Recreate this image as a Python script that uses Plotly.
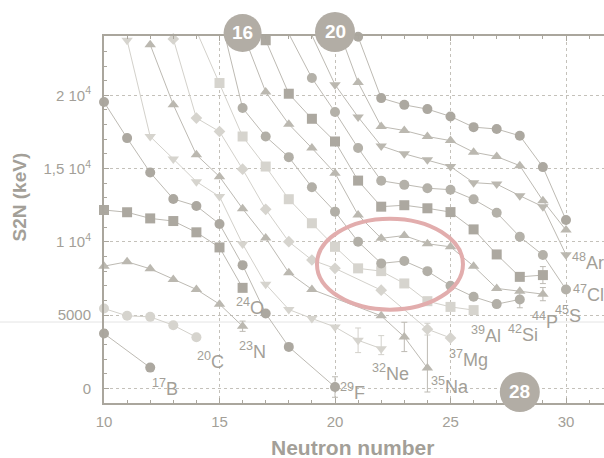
import plotly.graph_objects as go

# ---------------- data ----------------
B_N = [10, 12]
B_S = [3740, 1415]
C_N = [10, 11, 12, 13, 14]
C_S = [5450, 4950, 4880, 4310, 3490]
N_N = [10, 11, 12, 13, 14, 15, 16]
N_S = [8340, 8640, 8160, 7430, 6750, 5745, 4240]
O_N = [10, 11, 12, 13, 14, 15, 16]
O_S = [12175, 12020, 11600, 11420, 10650, 9620, 6860]
F_N = [10, 11, 12, 13, 14, 15, 16, 17, 18, 20]
F_S = [19540, 17080, 14730, 12930, 12450, 11220, 8410, 5110, 2830, 90]
Ne_N = [11, 12, 13, 14, 15, 16, 17, 18, 19, 20, 21, 22]
Ne_S = [23760, 17190, 15660, 14110, 13090, 9850, 7110, 5380, 4770, 4190, 3280, 2710]
Na_N = [12, 13, 14, 15, 16, 17, 18, 19, 22, 23, 24]
Na_S = [23460, 19360, 15940, 14450, 12260, 10260, 7890, 6750, 4950, 3510, 1390]
Mg_N = [13, 14, 15, 16, 17, 18, 19, 20, 22, 24, 25]
Mg_S = [23850, 18450, 17530, 14960, 12220, 10010, 8760, 8190, 6700, 4040, 3440]
Al_N = [14, 15, 16, 17, 18, 19, 20, 21, 22, 23, 24, 25, 26]
Al_S = [24400, 20840, 17190, 15140, 12910, 11270, 9660, 8190, 8000, 7160, 5950, 5560, 5340]
Si_N = [15, 16, 17, 18, 19, 20, 21, 22, 23, 24, 25, 26, 27, 28]
Si_S = [25600, 19130, 17190, 15780, 13730, 12060, 10010, 8530, 8690, 8000, 7000, 6250, 5750, 6070]
P_N = [16, 17, 18, 19, 20, 21, 22, 23, 24, 25, 26, 27, 28, 29]
P_S = [24300, 20230, 18030, 16400, 14690, 11830, 10240, 10430, 9870, 9660, 8340, 6820, 6630, 6430]
S_N = [16, 17, 18, 19, 20, 21, 22, 23, 24, 25, 26, 27, 28, 29]
S_S = [28100, 23760, 20110, 18400, 16850, 14180, 12400, 12500, 12290, 12030, 10850, 9140, 7610, 7730]
Cl_N = [18, 19, 20, 21, 22, 23, 24, 25, 26, 27, 28, 29, 30]
Cl_S = [24200, 21180, 18860, 16400, 14170, 13890, 13660, 13560, 12900, 11990, 10350, 9100, 6750]
Ar_N = [19, 20, 21, 22, 23, 24, 25, 26, 27, 28, 29, 30]
Ar_S = [24100, 20730, 18520, 16550, 16010, 15600, 15140, 14040, 13940, 13150, 12400, 9120]
K_N = [20, 21, 22, 23, 24, 25, 26, 27, 28, 29, 30]
K_S = [25150, 20880, 17870, 17600, 17190, 16910, 16120, 15820, 15200, 12810, 10800]
Ca_N = [21, 22, 23, 24, 25, 26, 27, 28, 29, 30]
Ca_S = [24000, 19810, 19350, 19060, 18560, 17830, 17700, 17240, 15100, 11490]

# error bars: element -> {N: (plus, minus)}
ERRORS = {
    "N": {16: (350, 350)},
    "F": {20: (700, 700)},
    "Ne": {21: (840, 840), 22: (890, 410)},
    "Na": {23: (1000, 1000), 24: (2800, 1640)},
    "Mg": {24: (400, 400)},
    "Si": {28: (570, 570)},
    "P": {29: (450, 450)},
    "S": {29: (580, 580)},
}

# drip-line labels: element -> mass number
MASS = {"B": 17, "C": 20, "N": 23, "O": 24, "F": 29, "Ne": 32, "Na": 35,
        "Mg": 37, "Al": 39, "Si": 42, "P": 44, "S": 45, "Cl": 47, "Ar": 48}

Y_TICKS = [0, 5000, 10000, 15000, 20000]
Y_TICKTEXT = ["0", "5000", "1 10<sup>4</sup>", "1,5 10<sup>4</sup>", "2 10<sup>4</sup>"]
X_TICKS = [10, 15, 20, 25, 30]
MAGIC = [16, 20, 28]

# ---------------- styling ----------------
DARK = "#aca8a0"
MID = "#bbb8b0"
LIGHT = "#d6d4ce"
LINE = "#bdbab3"
LINE_L = "#d3d1cb"
TXT = "#a39f98"

series = [
    ("B", B_N, B_S, "circle", DARK, LINE),
    ("C", C_N, C_S, "circle", LIGHT, LINE_L),
    ("N", N_N, N_S, "triangle-up", MID, LINE),
    ("O", O_N, O_S, "square", DARK, LINE),
    ("F", F_N, F_S, "circle", DARK, LINE),
    ("Ne", Ne_N, Ne_S, "triangle-down", LIGHT, LINE_L),
    ("Na", Na_N, Na_S, "triangle-up", MID, LINE),
    ("Mg", Mg_N, Mg_S, "diamond", LIGHT, LINE_L),
    ("Al", Al_N, Al_S, "square", LIGHT, LINE_L),
    ("Si", Si_N, Si_S, "circle", "#b2afa7", LINE),
    ("P", P_N, P_S, "triangle-up", MID, LINE),
    ("S", S_N, S_S, "square", DARK, LINE),
    ("Cl", Cl_N, Cl_S, "circle", "#b4b1a9", LINE),
    ("Ar", Ar_N, Ar_S, "triangle-down", MID, LINE),
    ("K", K_N, K_S, "triangle-up", MID, LINE),
    ("Ca", Ca_N, Ca_S, "circle", DARK, LINE),
]

SIZES = {"circle": 10, "square": 10, "triangle-up": 10, "triangle-down": 10, "diamond": 9}

# label offsets (pixels) relative to the last point of each chain
LABEL_SHIFT = {"B": (15, -20), "C": (14, -23), "N": (10, -24), "O": (7, -19),
               "F": (17, -4), "Ne": (9, -24), "Na": (23, -18), "Mg": (18, -21),
               "Al": (12, -24), "Si": (3, -34), "P": (2, -26), "S": (25, -39),
               "Cl": (22, -4), "Ar": (22, -7)}

fig = go.Figure()
annotations = []
for el, xs, ys, sym, col, lcol in series:
    err = ERRORS.get(el, {})
    ep = [err.get(n, (0, 0))[0] for n in xs]
    em = [err.get(n, (0, 0))[1] for n in xs]
    fig.add_trace(go.Scatter(
        x=xs, y=ys, mode="lines+markers", cliponaxis=False,
        line=dict(color=lcol, width=1),
        marker=dict(symbol=sym, size=SIZES[sym], color=col, line=dict(width=0)),
        error_y=dict(type="data", array=ep, arrayminus=em, visible=bool(err),
                     color=lcol, thickness=1, width=3),
        showlegend=False, name=el,
    ))
    if el in MASS:
        dx, dy = LABEL_SHIFT[el]
        annotations.append(dict(
            x=xs[-1], y=ys[-1], xref="x", yref="y", showarrow=False,
            text=f"<sup>{MASS[el]}</sup>{el}", xshift=dx, yshift=dy,
            font=dict(size=18, color=TXT, family="Liberation Sans"),
            xanchor="center", yanchor="middle"))

# axis titles
annotations.append(dict(x=-0.17, y=0.56, xref="paper", yref="paper", showarrow=False,
                        text="<b>S2N (keV)</b>", textangle=-90,
                        xanchor="center", yanchor="middle",
                        font=dict(size=19, color=TXT, family="Liberation Sans")))
annotations.append(dict(x=0.496, y=-0.12, xref="paper", yref="paper", showarrow=False,
                        text="<b>Neutron number</b>", xanchor="center", yanchor="middle",
                        font=dict(size=21, color=TXT, family="Liberation Sans")))

shapes = []
# faint scan line
shapes.append(dict(type="line", xref="paper", yref="paper", x0=-0.208, x1=1.0,
                   y0=0.2207, y1=0.2207, line=dict(color="#e4e4e4", width=1), layer="below"))
# highlight ellipse
shapes.append(dict(type="circle", xref="x", yref="y", x0=19.22, x1=25.54, y0=5373, y1=11579,
                   line=dict(color="#e2adad", width=4)))
# magic number badges
magic_pos = {16: (1.0082, 19), 20: (1.0109, 20), 28: (0.030, 20)}
for m in MAGIC:
    py, r = magic_pos[m]
    dx = r / 23.1
    dy = r / 367.0
    shapes.append(dict(type="circle", xref="x", yref="paper", x0=m - dx, x1=m + dx,
                       y0=py - dy, y1=py + dy, fillcolor="#b2ada5", line=dict(width=0)))
    annotations.append(dict(x=m, y=py, xref="x", yref="paper", showarrow=False,
                            xanchor="center", yanchor="middle",
                            text=f"<b>{m}</b>", font=dict(size=19, color="white",
                                                         family="Liberation Sans")))

fig.update_layout(
    width=604, height=458,
    margin=dict(l=104, r=0, t=36, b=55),
    paper_bgcolor="white", plot_bgcolor="white",
    font=dict(family="Liberation Sans", color=TXT),
    shapes=shapes, annotations=annotations,
    xaxis=dict(range=[10, 10 + 500 / 23.1], tickvals=X_TICKS,
               ticks="inside", ticklen=5, tickcolor="#aaa69d",
               minor=dict(dtick=1, ticks="inside", ticklen=3, tickcolor="#aaa69d", showgrid=False),
               showline=True, linecolor="#aaa69d", linewidth=2, mirror="allticks",
               showgrid=True, gridcolor="#c4c1ba", griddash="dot", gridwidth=1,
               zeroline=False, tickfont=dict(size=15, color=TXT), ticklabelstandoff=4),
    yaxis=dict(range=[-1000, 24050], tickvals=Y_TICKS, ticktext=Y_TICKTEXT,
               ticks="inside", ticklen=5, tickcolor="#aaa69d",
               minor=dict(dtick=1000, ticks="inside", ticklen=3, tickcolor="#aaa69d", showgrid=False),
               showline=True, linecolor="#aaa69d", linewidth=2, mirror=False,
               showgrid=True, gridcolor="#c4c1ba", griddash="dot", gridwidth=1,
               zeroline=False, tickfont=dict(size=15, color=TXT), ticklabelstandoff=8),
)

fig.write_html("out.html")
